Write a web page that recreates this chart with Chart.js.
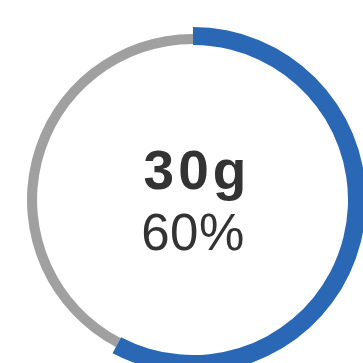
<!DOCTYPE html>
<html>
<head>
<meta charset="utf-8">
<script src="https://cdn.jsdelivr.net/npm/chart.js@4.4.1/dist/chart.umd.min.js"></script>
<style>
  html, body { margin: 0; padding: 0; width: 363px; height: 363px; overflow: hidden; background: #ffffff; }
  .wrap { position: absolute; left: 19.5px; top: 27px; width: 346px; height: 346px; }
  .t { position: absolute; transform: translateX(-50%); text-align: center; color: #333333; font-family: "Liberation Sans", Arial, sans-serif; white-space: nowrap; }
  #big { left: 197px; top: 138px; font-size: 55px; font-weight: bold; letter-spacing: 4px; line-height: 64px; }
  #small { left: 193px; top: 203px; font-size: 51px; font-weight: normal; letter-spacing: 0.5px; line-height: 60px; }
</style>
</head>
<body>
<div class="wrap"><canvas id="gray"></canvas></div>
<div class="wrap"><canvas id="blue"></canvas></div>
<div class="t" id="big"></div>
<div class="t" id="small"></div>
<script>
const categories = ["Consumed", "Remaining"];
const consumedGrams = 30;
const remainingGrams = 22;
const labelMain = "30g";
const labelPercent = "60%";
const colorBlue = "#2a68b6";
const colorGray = "#a0a0a0";

document.getElementById("big").textContent = labelMain;
document.getElementById("small").textContent = labelPercent;

const values = [consumedGrams, remainingGrams];
const common = {
  responsive: true,
  maintainAspectRatio: false,
  animation: false,
  layout: { padding: 0 },
  plugins: { legend: { display: false }, tooltip: { enabled: false } }
};

new Chart(document.getElementById("gray"), {
  type: "doughnut",
  data: {
    labels: categories,
    datasets: [{ data: values, backgroundColor: ["rgba(0,0,0,0)", colorGray], borderWidth: 0 }]
  },
  options: Object.assign({}, common, { radius: 166, cutout: 162.5 })
});

new Chart(document.getElementById("blue"), {
  type: "doughnut",
  data: {
    labels: categories,
    datasets: [{ data: values, backgroundColor: [colorBlue, "rgba(0,0,0,0)"], borderWidth: 0 }]
  },
  options: Object.assign({}, common, { radius: 173, cutout: 155 })
});
</script>
</body>
</html>
